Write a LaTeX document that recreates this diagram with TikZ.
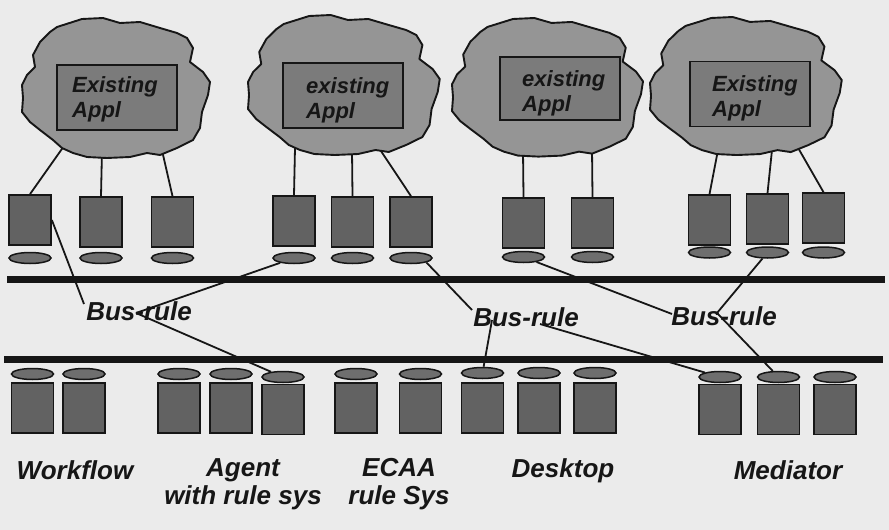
\documentclass[tikz,border=0pt]{standalone}
\usepackage{fontspec}
\setmainfont{Liberation Sans}
\usetikzlibrary{shapes.geometric}

\definecolor{paper}{HTML}{EBEBEB}
\definecolor{ink}{HTML}{161616}
\definecolor{cloudgray}{HTML}{959595}
\definecolor{appgray}{HTML}{7B7B7B}
\definecolor{boxgray}{HTML}{626262}
\definecolor{diskgray}{HTML}{6E6E6E}

\tikzset{
  server/.style={draw=ink, line width=1.7pt, fill=boxgray, minimum width=42pt,
                 minimum height=50pt, inner sep=0pt},
  disk/.style={ellipse, draw=ink, line width=1.5pt, fill=diskgray, minimum width=42pt,
               minimum height=11pt, inner sep=0pt},
  app/.style={draw=ink, line width=1.6pt, fill=appgray, minimum width=120pt,
              minimum height=65pt, inner sep=0pt},
  apptext/.style={anchor=west, align=left, text=ink, inner sep=0pt,
                  font=\fontsize{22}{25}\selectfont\bfseries\itshape},
  bigtext/.style={text=ink, inner sep=0pt, align=center,
                  font=\fontsize{26}{28}\selectfont\bfseries\itshape},
  wire/.style={draw=ink, line width=1.8pt},
  bus/.style={draw=ink, line width=7pt},
  cloudshape/.style={draw=ink, line width=1.9pt, fill=cloudgray, line join=round},
}

\begin{document}
\begin{tikzpicture}[x=1pt, y=-1pt]
  % page
  \fill[paper] (0,0) rectangle (889,530);
  \useasboundingbox (0,0) rectangle (889,530);

  % upper servers and their disks
  \foreach \n/\x/\y/\dy in {1/30/220/258, 2/101/222/258, 3/172.5/222/258,
                            4/294/221/258, 5/352.5/222/258, 6/411/222/258,
                            7/523.5/223/257, 8/592.5/223/257,
                            9/709.5/220/252.5, 10/767.5/219/252.5, 11/823.5/218/252.5} {
    \node[server] (u\n) at (\x,\y) {};
    \node[disk] (ud\n) at (\x,\dy) {};
  }

  % lower servers and their disks
  \foreach \n/\x/\y/\dy in {1/32.5/408/374, 2/84/408/374, 3/179/408/374,
                            4/231/408/374, 5/283/409.5/377, 6/356/408/374,
                            7/420.5/408/374, 8/482.5/408/373, 9/539/408/373,
                            10/595/408/373, 11/720/409.5/377, 12/778.5/409.5/377,
                            13/835/409.5/377} {
    \node[server] (l\n) at (\x,\y) {};
    \node[disk] (ld\n) at (\x,\dy) {};
  }

  % attachment points on the application clouds
  \coordinate (c1a) at (64,146);  \coordinate (c1b) at (102,150); \coordinate (c1c) at (161,146);
  \coordinate (c2a) at (295,148); \coordinate (c2b) at (352,150); \coordinate (c2c) at (379,148);
  \coordinate (c3a) at (523,150); \coordinate (c3b) at (592,148);
  \coordinate (c4a) at (718,150); \coordinate (c4b) at (772,150); \coordinate (c4c) at (797,146);

  % clouds to their servers
  \foreach \c/\u in {c1a/u1, c1b/u2, c1c/u3, c2a/u4, c2b/u5, c2c/u6,
                     c3a/u7, c3b/u8, c4a/u9, c4b/u10, c4c/u11} {
    \draw[wire] (\c) -- (\u.north);
  }

  % application clouds
  \foreach \sx/\sy/\kx/\ky in {22/18/1/1, 248/15/1.02/1, 452/18/1.016/0.99, 650/17/1.02/0.986} {
    \begin{scope}[shift={(\sx,\sy)}, xscale=\kx, yscale=\ky]
      \path[cloudshape] (35,9) -- (60,1) -- (81,0) -- (98,5) -- (118,4) -- (138,10)
        -- (155,15) -- (165,20) -- (171,30) -- (168,44) -- (181,54) -- (188,64)
        -- (186,77) -- (180,94) -- (178,110) -- (171,122) -- (155,130) -- (138,137)
        -- (125,135) -- (108,139) -- (85,140) -- (65,139) -- (51,135) -- (40,130)
        -- (31,122) -- (18,112) -- (8,104) -- (0,94) -- (1,80) -- (0,67) -- (5,57)
        -- (13,49) -- (11,37) -- (18,24) -- (28,14) -- cycle;
    \end{scope}
  }

  % existing applications
  \node[app] (a1) at (117,97.5) {};
  \node[app] (a2) at (343,95.5) {};
  \node[app, minimum height=63pt] (a3) at (560,88.5) {};
  \node[app] (a4) at (750,94) {};
  \node[apptext] (t1) at (72,99)  {Existing\\Appl};
  \node[apptext] (t2) at (306,100) {existing\\Appl};
  \node[apptext] (t3) at (522,93)  {existing\\Appl};
  \node[apptext] (t4) at (712,98)  {Existing\\Appl};

  % the two buses
  \coordinate (busA-w) at (7,279.5);  \coordinate (busA-e) at (885,279.5);
  \coordinate (busB-w) at (4,359.5);  \coordinate (busB-e) at (883,359.5);
  \draw[bus] (busA-w) -- (busA-e);
  \draw[bus] (busB-w) -- (busB-e);

  % bus rules
  \node[bigtext] (br1) at (139,311) {Bus-rule};
  \node[bigtext] (br2) at (526,317) {Bus-rule};
  \node[bigtext] (br3) at (724,316) {Bus-rule};

  % points where the rule wires meet the labels
  \coordinate (br1b) at (84,304);  \coordinate (br1s) at (136,313);
  \coordinate (br2b) at (472,310); \coordinate (br2u) at (492,320); \coordinate (br2r) at (540,324);
  \coordinate (br3b) at (672,314); \coordinate (br3s) at (717,313);

  \draw[wire] (u1.east) -- (br1b);
  \draw[wire] (ud4) -- (br1s);
  \draw[wire] (br1s) -- (ld5);
  \draw[wire] (ud6.south east) -- (br2b);
  \draw[wire] (br2u) -- (ld8);
  \draw[wire] (br2r) -- (ld11);
  \draw[wire] (ud7) -- (br3b);
  \draw[wire] (ud10) -- (br3s);
  \draw[wire] (br3s) -- (ld12);

  % system names
  \node[bigtext] (n1) at (75,470)  {Workflow};
  \node[bigtext] (n2) at (243,484) {Agent\\with rule sys};
  \node[bigtext] (n3) at (399,484) {ECAA\\rule Sys};
  \node[bigtext] (n4) at (563,471) {Desktop};
  \node[bigtext] (n5) at (788,470) {Mediator};
\end{tikzpicture}
\end{document}
